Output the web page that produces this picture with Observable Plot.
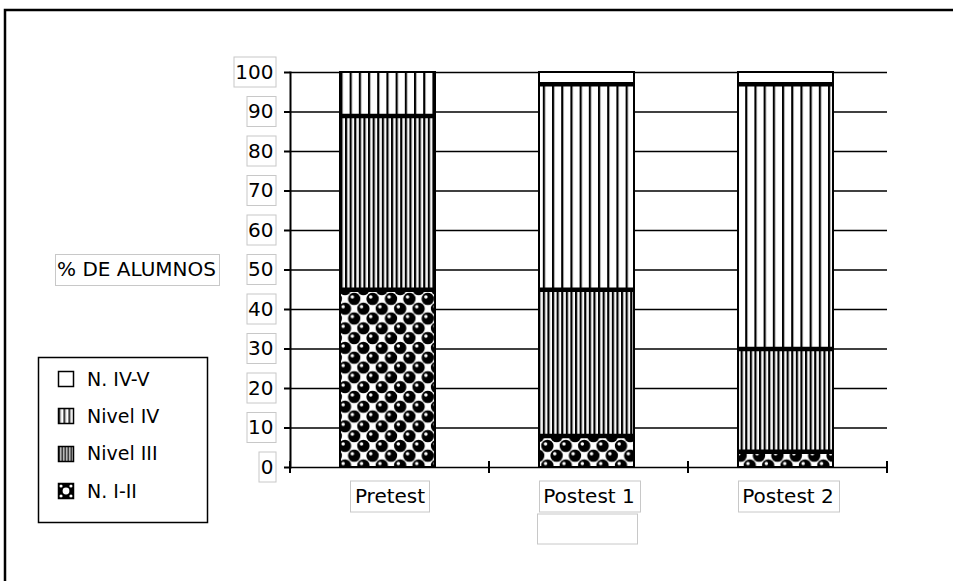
<!DOCTYPE html>
<html>
<head>
<meta charset="utf-8">
<script src="https://cdn.jsdelivr.net/npm/d3@7"></script>
<script src="https://cdn.jsdelivr.net/npm/@observablehq/plot@0.6"></script>
<style>
  html, body { margin: 0; padding: 0; background: #fff; }
  #chart svg { display: block; }
</style>
</head>
<body>
<div id="chart"></div>
<script>
// Test sessions on the x axis
const categories = ["Pretest", "Postest 1", "Postest 2"];
// Performance levels, bottom of the stack first
const levels = ["N. I-II", "Nivel III", "Nivel IV", "N. IV-V"];
// Percentage of students per level and session
const nI_II    = [45, 8, 4];
const nivelIII = [44, 37, 26];
const nivelIV  = [11, 52, 67];
const nIV_V    = [0, 3, 3];
const yTicks = [0, 10, 20, 30, 40, 50, 60, 70, 80, 90, 100];
const yLabel = "% DE ALUMNOS";

const series = [nI_II, nivelIII, nivelIV, nIV_V];
const fills = {
  "N. I-II": "url(#pat-sphere)",
  "Nivel III": "url(#pat-dense)",
  "Nivel IV": "url(#pat-wide)",
  "N. IV-V": "white"
};

const rows = [];
levels.forEach((level, li) => {
  categories.forEach((category, ci) => {
    const above = series.slice(li + 1).reduce((s, arr) => s + arr[ci], 0);
    rows.push({category, level, value: series[li][ci], covered: above > 0});
  });
});

const font = "DejaVu Sans, Verdana, sans-serif";
const barInset = {insetLeft: 50, insetRight: 54};

const chart = Plot.plot({
  width: 953,
  height: 581,
  marginLeft: 290,
  marginRight: 66,
  marginTop: 72,
  marginBottom: 114,
  style: {fontFamily: font, fontSize: "20px", color: "black", background: "white"},
  x: {domain: categories, padding: 0, axis: null},
  y: {domain: [0, 100], axis: null},
  color: {type: "identity"},
  marks: [
    Plot.ruleY(yTicks, {stroke: "black", strokeWidth: 1.6}),
    Plot.frame({anchor: "left", stroke: "black", strokeWidth: 2}),
    Plot.axisY({ticks: yTicks, tickSize: 6, tickPadding: 11, strokeWidth: 2, fontSize: 20, label: null, tickFormat: d => String(d)}),
    Plot.barY(rows, {
      x: "category", y: "value", fill: d => fills[d.level],
      filter: d => d.value > 0,
      stroke: "black", strokeWidth: 2, ...barInset
    }),
    // heavier dividing line on top of each covered segment
    Plot.tickY(rows, Plot.stackY2({
      x: "category", y: "value", z: "level",
      filter: d => d.level !== "N. IV-V",
      strokeOpacity: d => d.covered ? 1 : 0,
      stroke: "black", strokeWidth: 4.5, ...barInset
    })),
    Plot.text(categories, {x: d => d, frameAnchor: "bottom", lineAnchor: "middle", dy: 29, fontSize: 20, fill: "black"}),
    Plot.text([yLabel], {y: () => 50, frameAnchor: "left", lineAnchor: "middle", dx: -74.5, textAnchor: "end", fontSize: 20, fill: "black"})
  ]
});

document.getElementById("chart").append(chart);

const svg = d3.select(chart);
const defs = svg.insert("defs", ":first-child");

function stripes(id, w, line, x0 = 0, fringe = 0.8) {
  const p = defs.append("pattern").attr("id", id)
    .attr("patternUnits", "userSpaceOnUse")
    .attr("x", x0).attr("width", w).attr("height", 10);
  p.append("rect").attr("width", w).attr("height", 10).attr("fill", "white");
  p.append("rect").attr("width", line).attr("height", 10).attr("fill", "black");
  p.append("rect").attr("x", line).attr("width", fringe).attr("height", 10).attr("fill", "#999");
}
stripes("pat-wide", 9.2, 2);
stripes("pat-dense", 4.6, 2.1);

function spheres(id, w, h, r, centers, x0 = 0, y0 = 0) {
  const p = defs.append("pattern").attr("id", id)
    .attr("patternUnits", "userSpaceOnUse")
    .attr("x", x0).attr("y", y0).attr("width", w).attr("height", h);
  p.append("rect").attr("width", w).attr("height", h).attr("fill", "white");
  for (const [cx, cy] of centers) {
    for (const ox of [-w, 0, w]) for (const oy of [-h, 0, h]) {
      p.append("circle").attr("cx", cx + ox).attr("cy", cy + oy).attr("r", r).attr("fill", "black");
      p.append("circle").attr("cx", cx + ox - r * 0.3).attr("cy", cy + oy - r * 0.3).attr("r", r * 0.28).attr("fill", "white");
    }
  }
}
spheres("pat-sphere", 18.4, 19.6, 6.2, [[4.6, 4.9], [13.8, 14.7]]);

// Boxes round the axis texts
function boxText(sel, padX, padY) {
  const boxes = [];
  sel.each(function () {
    const b = this.getBBox();
    const t = this.getAttribute("transform");
    const g = d3.select(this.parentNode);
    const r = g.insert("rect", () => this)
      .attr("x", Math.round(b.x - padX) + 0.5)
      .attr("y", Math.round(b.y - padY) + 0.5)
      .attr("width", Math.round(b.width + 2 * padX))
      .attr("height", Math.round(b.height + 2 * padY))
      .attr("fill", "white").attr("stroke", "#c8c8c8").attr("stroke-width", 1);
    if (t) r.attr("transform", t);
    boxes.push({node: r.node(), text: this.textContent});
  });
  return boxes;
}
const textsOf = values => svg.selectAll("text").filter(function () { return values.includes(this.textContent); });
boxText(svg.selectAll('g[aria-label="y-axis tick label"] text'), 2, 3);
const xBoxes = boxText(textsOf(categories), 4.5, 3.5);
boxText(textsOf([yLabel]), 2.5, 3.5);

// stray empty text box under the second session label
const p1 = xBoxes.find(b => b.text === "Postest 1");
if (p1) {
  const n = d3.select(p1.node);
  const r = d3.select(p1.node.parentNode).append("rect")
    .attr("x", +n.attr("x") - 2)
    .attr("y", +n.attr("y") + +n.attr("height") + 2)
    .attr("width", +n.attr("width") - 1)
    .attr("height", +n.attr("height") - 1)
    .attr("fill", "none").attr("stroke", "#c8c8c8").attr("stroke-width", 1);
  if (n.attr("transform")) r.attr("transform", n.attr("transform"));
}

// category boundary ticks on the x axis
const xs = chart.scale("x"), ys = chart.scale("y");
const y0 = ys.apply(0);
const bounds = categories.map(c => xs.apply(c)).concat([xs.apply(categories[categories.length - 1]) + xs.bandwidth]);
svg.append("g").attr("stroke", "black").attr("stroke-width", 2)
  .selectAll("line").data(bounds).join("line")
  .attr("x1", d => d).attr("x2", d => d)
  .attr("y1", y0 - 6).attr("y2", y0 + 6);

// legend, top of the stack first
const legendLevels = levels.slice().reverse();
stripes("lg-wide", 5, 1.6, 58.5);
stripes("lg-dense", 3, 1.6, 58.5, 0.5);
const lg = svg.append("g").attr("font-family", font).attr("font-size", 19).attr("text-anchor", "start");
lg.append("rect").attr("x", 38.5).attr("y", 357.5).attr("width", 169).attr("height", 165)
  .attr("fill", "white").attr("stroke", "black").attr("stroke-width", 1.5);
legendLevels.forEach((level, i) => {
  const cy = 379 + i * 37.4;
  let fill = "white";
  if (level === "Nivel IV") fill = "url(#lg-wide)";
  if (level === "Nivel III") fill = "url(#lg-dense)";
  const sx = 58.5, sy = Math.round(cy - 8) + 0.5;
  if (level === "N. I-II") {
    lg.append("rect").attr("x", sx).attr("y", sy).attr("width", 15).attr("height", 15).attr("fill", "black");
    lg.append("circle").attr("cx", sx + 7.5).attr("cy", sy + 7.5).attr("r", 3.4).attr("fill", "white");
    for (const [dx, dy] of [[2.5, 2.5], [12.5, 2.5], [2.5, 12.5], [12.5, 12.5]]) {
      lg.append("circle").attr("cx", sx + dx).attr("cy", sy + dy).attr("r", 1.6).attr("fill", "white");
    }
    lg.append("rect").attr("x", sx).attr("y", sy).attr("width", 15).attr("height", 15)
      .attr("fill", "none").attr("stroke", "black").attr("stroke-width", 1.5);
  } else {
    lg.append("rect").attr("x", sx).attr("y", sy).attr("width", 15).attr("height", 15)
      .attr("fill", fill).attr("stroke", "black").attr("stroke-width", 1.5);
  }
  lg.append("text").attr("x", 87).attr("y", cy).attr("dy", "0.35em").attr("fill", "black").text(level);
});

// outer frame
svg.append("rect").attr("x", 5).attr("y", 10).attr("width", 1000).attr("height", 1000)
  .attr("fill", "none").attr("stroke", "black").attr("stroke-width", 2.5);
</script>
</body>
</html>
